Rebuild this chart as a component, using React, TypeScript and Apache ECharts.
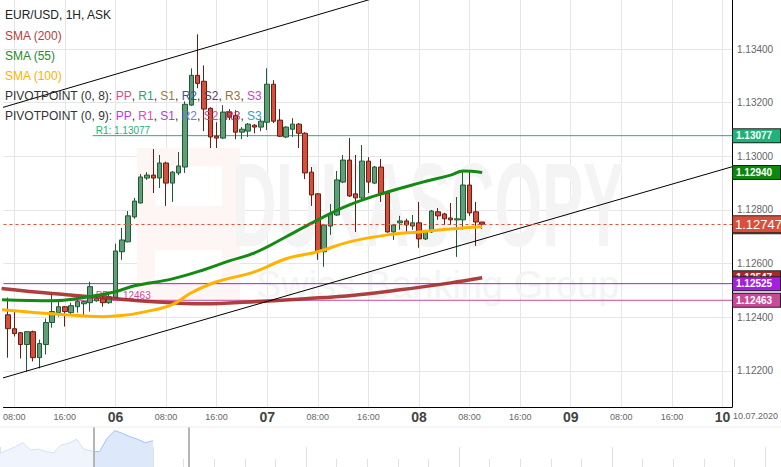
import { useEffect, useRef } from "react";
import * as echarts from "echarts";

const FONT = "Arial, 'Liberation Sans', Helvetica, sans-serif";

// hours counted from 05.07 00:00
const candleHours = [7, 8, 9, 10, 11, 12, 13, 14, 15, 16, 17, 18, 19, 20, 21, 22, 23, 24, 25, 26, 27, 28, 29, 30, 31, 32, 33, 34, 35, 36, 37, 38, 39, 40, 41, 42, 43, 44, 45, 46, 47, 48, 49, 50, 51, 52, 53, 54, 55, 56, 57, 58, 59, 60, 61, 62, 63, 64, 65, 66, 67, 68, 69, 70, 71, 72, 73, 74, 75, 76, 77, 78, 79, 80, 81, 82];
const openPrices = [1.12409, 1.12357, 1.12342, 1.12298, 1.12346, 1.12249, 1.12298, 1.1238, 1.12417, 1.12439, 1.12417, 1.12439, 1.1245, 1.12454, 1.12461, 1.12469, 1.12454, 1.12473, 1.12644, 1.12681, 1.12774, 1.12826, 1.12919, 1.1293, 1.12919, 1.12975, 1.129, 1.12938, 1.1296, 1.13191, 1.13302, 1.1328, 1.13179, 1.13075, 1.13068, 1.13165, 1.13153, 1.1309, 1.13094, 1.13116, 1.13109, 1.13127, 1.13269, 1.13135, 1.13072, 1.13101, 1.1312, 1.13086, 1.12941, 1.1286, 1.12644, 1.1274, 1.12781, 1.12904, 1.12986, 1.1286, 1.12845, 1.12982, 1.129, 1.1296, 1.12863, 1.12718, 1.12752, 1.12759, 1.1274, 1.12752, 1.12692, 1.12718, 1.12793, 1.12785, 1.1277, 1.12763, 1.12763, 1.12893, 1.12793, 1.12755];
const closePrices = [1.12357, 1.12339, 1.12298, 1.12346, 1.12249, 1.12302, 1.1238, 1.12421, 1.12439, 1.12421, 1.12443, 1.12458, 1.12458, 1.12514, 1.12469, 1.12454, 1.12476, 1.12647, 1.12688, 1.12778, 1.12833, 1.12923, 1.1293, 1.12919, 1.12975, 1.129, 1.12941, 1.12964, 1.13194, 1.13302, 1.13272, 1.13176, 1.13072, 1.13068, 1.13165, 1.13146, 1.1309, 1.13101, 1.1312, 1.13109, 1.13131, 1.13269, 1.13131, 1.13075, 1.13109, 1.1312, 1.13086, 1.12938, 1.12856, 1.12644, 1.12744, 1.12785, 1.12912, 1.12986, 1.12852, 1.12845, 1.12982, 1.12904, 1.1296, 1.1286, 1.12718, 1.12744, 1.12759, 1.12744, 1.12752, 1.12692, 1.12722, 1.12796, 1.12778, 1.12767, 1.12763, 1.12767, 1.12893, 1.12789, 1.12755, 1.12747];
const lowPrices = [1.12249, 1.12328, 1.12246, 1.12197, 1.12235, 1.12209, 1.12261, 1.12361, 1.12402, 1.12365, 1.12409, 1.12417, 1.12402, 1.12421, 1.12458, 1.12439, 1.1245, 1.1247, 1.12614, 1.12679, 1.12767, 1.12824, 1.12912, 1.12863, 1.12882, 1.12815, 1.1283, 1.1293, 1.12938, 1.13188, 1.13254, 1.13094, 1.13031, 1.13031, 1.13064, 1.13135, 1.13064, 1.13064, 1.13072, 1.13086, 1.13094, 1.13098, 1.13124, 1.13072, 1.13068, 1.13072, 1.13031, 1.12915, 1.12815, 1.12614, 1.12588, 1.12707, 1.12778, 1.129, 1.12848, 1.12718, 1.12841, 1.12863, 1.12897, 1.1283, 1.12715, 1.12688, 1.12726, 1.12718, 1.12726, 1.12659, 1.12688, 1.12714, 1.12763, 1.12744, 1.12744, 1.12625, 1.12726, 1.12778, 1.12666, 1.12729];
const highPrices = [1.12473, 1.12421, 1.12345, 1.12348, 1.1235, 1.12316, 1.12395, 1.12488, 1.12465, 1.12442, 1.12454, 1.12473, 1.12461, 1.12532, 1.12476, 1.1248, 1.12495, 1.12674, 1.12733, 1.12796, 1.12845, 1.12934, 1.12941, 1.13027, 1.13005, 1.1298, 1.12945, 1.13016, 1.13205, 1.13328, 1.13455, 1.13339, 1.13183, 1.13127, 1.13191, 1.13176, 1.13172, 1.13109, 1.13124, 1.1312, 1.13139, 1.13328, 1.13284, 1.13176, 1.13112, 1.13142, 1.13124, 1.1309, 1.1296, 1.12863, 1.12748, 1.12822, 1.12945, 1.13005, 1.13068, 1.13005, 1.13042, 1.12997, 1.12964, 1.1299, 1.12866, 1.12748, 1.12778, 1.12767, 1.12781, 1.1283, 1.12726, 1.128, 1.12807, 1.12789, 1.12826, 1.12848, 1.12945, 1.12941, 1.1283, 1.12755];

const sma200Hours = [6, 14, 22, 30, 38, 46, 54, 61, 69, 77, 82];
const sma200Values = [1.12507, 1.12488, 1.12473, 1.12458, 1.1245, 1.12458, 1.12469, 1.1248, 1.12502, 1.12528, 1.12547];
const sma55Hours = [6, 14, 19, 24, 27, 33, 38, 42, 46, 51, 56, 61, 67, 72, 77, 79, 82];
const sma55Values = [1.12465, 1.12461, 1.12473, 1.12495, 1.12517, 1.12543, 1.12577, 1.1261, 1.1264, 1.127, 1.12763, 1.12819, 1.12867, 1.129, 1.1293, 1.12945, 1.1294];
const sma100Hours = [6, 16, 22, 25, 28, 33, 36, 40, 46, 51, 56, 61, 67, 72, 77, 82];
const sma100Values = [1.12428, 1.12409, 1.12402, 1.12406, 1.12417, 1.12447, 1.12491, 1.12532, 1.12569, 1.12618, 1.12644, 1.12681, 1.12707, 1.12718, 1.12729, 1.12737];

const upperTrendHours = [6, 70];
const upperTrendValues = [1.13181, 1.13625];
const lowerTrendHours = [6, 121.5];
const lowerTrendValues = [1.12172, 1.12961];

const xTickHours = [8, 16, 24, 32, 40, 48, 56, 64, 72, 80, 88, 96, 104, 112, 120];
const yTickValues = [1.122, 1.124, 1.126, 1.128, 1.13, 1.132, 1.134];

const lastPrice = 1.12747;
const pivotR1 = 1.13077;
const pivotPP8 = 1.12463;
const pivotPP9 = 1.12525;
const pivotStartHour = 20.4;
const sma55Last = 1.1294;
const sma100Last = 1.12737;
const sma200Last = 1.12547;

// navigator (overview) — position in days, height units
const navLightT = [0, 0.05, 0.1, 0.15, 0.2, 0.25, 0.3, 0.35, 0.4, 0.45, 0.5, 0.55, 0.6, 0.614];
const navLightV = [13.7, 17, 20.3, 24.3, 17, 18, 15.3, 14.3, 22, 23.7, 27.7, 17.7, 16, 15.5];
const navSelT = [0.614, 0.65, 0.7, 0.75, 0.8, 0.85, 0.9, 0.95, 1.0];
const navSelV = [15.5, 15.3, 28.7, 36.3, 33.7, 30.3, 27.7, 24.3, 26.3];
const navHandles = [0.614, 1.235];

const X_MIN = 6.3;
const X_MAX = 121.5;

const R1_COLOR = "#1db37a";
const PP8_COLOR = "#c94a9a";
const PP9_COLOR = "#a81ee0";

const pad2 = (n: number) => (n < 10 ? "0" + n : "" + n);

function tag(v: number, bg: string, extra: any = {}) {
  return {
    yAxis: v,
    lineStyle: extra.line || { width: 0, color: "rgba(0,0,0,0)" },
    label: {
      show: true,
      position: "end",
      distance: 1,
      formatter: v.toFixed(5),
      backgroundColor: bg,
      borderColor: "#222",
      borderWidth: 1,
      color: "#fff",
      fontWeight: "bold",
      fontSize: 10,
      fontFamily: FONT,
      padding: [2, 3, 1, 3],
      width: 41,
      lineHeight: 10,
      ...(extra.label || {}),
    },
  };
}

function pivotSeries(v: number, startHour: number, color: string, labelText: string | null) {
  const s: any = {
    type: "line", xAxisIndex: 0, yAxisIndex: 0, z: 3, color,
    data: [[startHour, v], [X_MAX, v]],
    showSymbol: false, lineStyle: { color, width: 1 },
  };
  if (labelText) {
    s.markLine = {
      silent: true, symbol: ["none", "none"], precision: 5, z: 4,
      lineStyle: { color: "rgba(0,0,0,0)", width: 0 },
      data: [
        [
          {
            coord: [pivotStartHour, v],
            lineStyle: { color: "rgba(0,0,0,0)", width: 0 },
            label: {
              show: true, position: "insideStartTop", distance: [3, 0], formatter: labelText,
              color, fontSize: 10, fontFamily: FONT,
            },
          },
          { coord: [X_MAX, v] },
        ],
      ],
    };
  }
  return s;
}

function buildOption() {
  const candles = candleHours.map((h, i) => [h, openPrices[i], closePrices[i], lowPrices[i], highPrices[i]]);
  const pairs = (xs: number[], ys: number[]) => xs.map((x, i) => [x, ys[i]]);

  const legendRow = (label: string, parts: [string, string][]) => {
    let text = `{a|${label}}`;
    const rich: any = { a: { fill: "#333", fontSize: 12, fontFamily: FONT } };
    parts.forEach(([t, c], i) => {
      rich["p" + i] = { fill: c, fontSize: 12, fontFamily: FONT };
      text += `{p${i}|${t}}` + (i < parts.length - 1 ? `{a|, }` : "");
    });
    return { text, rich };
  };
  const row8 = legendRow("PIVOTPOINT (0, 8): ", [
    ["PP", "#d2508c"], ["R1", "#1aa86f"], ["S1", "#a07a3c"], ["R2", "#3f4fa8"], ["S2", "#6a3a6a"], ["R3", "#a0703a"], ["S3", "#d040c8"],
  ]);
  const row9 = legendRow("PIVOTPOINT (0, 9): ", [
    ["PP", "#b040e8"], ["R1", "#f040c8"], ["S1", "#b040d0"], ["R2", "#7878d8"], ["S2", "#e0507a"], ["R3", "#b0306a"], ["S3", "#30a0c8"],
  ]);

  const legendText = (y: number, text: string, fill: string) => ({
    type: "text", x: 5, y, z: 100,
    style: { text, fill, fontSize: 12, fontFamily: FONT, verticalAlign: "middle" },
  });

  return {
    animation: false,
    backgroundColor: "#fff",
    grid: [
      { left: 0, right: 49, top: 0, bottom: 60 },
      { left: 0, right: 0, top: 427, height: 40 },
    ],
    xAxis: [
      {
        type: "value", gridIndex: 0, min: X_MIN, max: X_MAX,
        axisLine: { show: true, lineStyle: { color: "#000", width: 1 } },
        axisTick: { show: false, customValues: xTickHours },
        splitLine: { show: true, lineStyle: { color: "#e6e6e6", width: 1 } },
        axisLabel: {
          customValues: xTickHours,
          margin: 1,
          fontFamily: FONT,
          formatter: (v: number) => {
            const h = Math.round(v);
            if (h % 24 === 0) return `{d|${pad2(5 + h / 24)}}`;
            return `{t|${pad2(h % 24)}:00}`;
          },
          rich: {
            d: { fontSize: 14, fontWeight: "bold", color: "#444", lineHeight: 18, fontFamily: FONT },
            t: { fontSize: 9, color: "#666", lineHeight: 18, fontFamily: FONT },
          },
        },
      },
      {
        type: "value", gridIndex: 1, min: 0, max: 5.1046, interval: 1,
        axisLine: { show: false },
        axisLabel: { show: false },
        splitLine: { show: false },
        axisTick: { show: true, inside: true, length: 20, lineStyle: { color: "#e2e2e2" } },
        minorTick: { show: true, splitNumber: 5, length: 8, lineStyle: { color: "#e2e2e2" } },
      },
    ],
    yAxis: [
      {
        type: "value", gridIndex: 0, position: "right", min: 1.12065, max: 1.13583, splitNumber: 7,
        axisLine: { show: true, lineStyle: { color: "#000", width: 1 } },
        axisTick: { show: false, customValues: yTickValues },
        splitLine: { show: true, lineStyle: { color: "#e6e6e6", width: 1 } },
        axisLabel: {
          customValues: yTickValues, margin: 5, color: "#666", fontSize: 10, fontFamily: FONT,
          formatter: (v: number) => v.toFixed(5),
        },
      },
      { type: "value", gridIndex: 1, min: 0, max: 40, show: false },
    ],
    graphic: [
      { type: "rect", z: 1, silent: true, shape: { x: 137, y: 148, width: 103, height: 152 }, style: { fill: "#fef5f5" } },
      { type: "rect", z: 1, silent: true, shape: { x: 155, y: 166, width: 67, height: 40 }, style: { fill: "#ffffff" } },
      { type: "rect", z: 1, silent: true, shape: { x: 155, y: 250, width: 67, height: 32 }, style: { fill: "#ffffff" } },
      {
        type: "text", z: 1, silent: true, x: 232, y: 146, scaleX: 0.52,
        style: { text: "DUKASCOPY", fill: "#f4f4f4", fontSize: 118, fontWeight: "bold", fontFamily: FONT },
      },
      {
        type: "text", z: 1, silent: true, x: 256, y: 266,
        style: { text: "Swiss Banking Group", fill: "#f4f4f4", fontSize: 38, fontFamily: FONT },
      },
      legendText(15, "EUR/USD, 1H, ASK", "#222"),
      legendText(36, "SMA (200)", "#b83c3c"),
      legendText(56, "SMA (55)", "#1e8c1e"),
      legendText(76, "SMA (100)", "#ffb000"),
      { type: "text", x: 5, y: 96, z: 100, style: { ...row8, fontSize: 12, fontFamily: FONT, verticalAlign: "middle" } },
      { type: "text", x: 5, y: 116, z: 100, style: { ...row9, fontSize: 12, fontFamily: FONT, verticalAlign: "middle" } },
      {
        type: "text", x: 733, y: 416, z: 100,
        style: { text: "10.07.2020", fill: "#666", fontSize: 9, fontFamily: FONT, verticalAlign: "middle" },
      },
      { type: "line", z: 100, shape: { x1: 0, y1: 427, x2: 781, y2: 427 }, style: { stroke: "#ececec", lineWidth: 1 } },
    ],
    series: [
      pivotSeries(pivotPP9, X_MIN, PP9_COLOR, null),
      pivotSeries(pivotPP8, X_MIN, PP8_COLOR, "PP: " + pivotPP8.toFixed(5)),
      pivotSeries(pivotR1, pivotStartHour, R1_COLOR, "R1: " + pivotR1.toFixed(5)),
      {
        type: "candlestick", xAxisIndex: 0, yAxisIndex: 0, barWidth: 5, z: 5,
        data: candles,
        itemStyle: {
          color: "#5f9e78", color0: "#d4503a",
          borderColor: "#1f5a34", borderColor0: "#6a1c12", borderWidth: 1,
        },
      },
      {
        type: "line", xAxisIndex: 0, yAxisIndex: 0, z: 6, data: pairs(sma200Hours, sma200Values),
        smooth: 0.4, showSymbol: false, lineStyle: { color: "#a52a2a", width: 3.5, opacity: 0.9 },
      },
      {
        type: "line", xAxisIndex: 0, yAxisIndex: 0, z: 6, data: pairs(sma100Hours, sma100Values),
        smooth: 0.4, showSymbol: false, lineStyle: { color: "#ffb300", width: 3 },
      },
      {
        type: "line", xAxisIndex: 0, yAxisIndex: 0, z: 6, data: pairs(sma55Hours, sma55Values),
        smooth: 0.4, showSymbol: false, lineStyle: { color: "#138a13", width: 3 },
      },
      {
        type: "line", xAxisIndex: 0, yAxisIndex: 0, z: 7, data: pairs(upperTrendHours, upperTrendValues),
        showSymbol: false, lineStyle: { color: "#000", width: 1 },
      },
      {
        type: "line", xAxisIndex: 0, yAxisIndex: 0, z: 7, data: pairs(lowerTrendHours, lowerTrendValues),
        showSymbol: false, lineStyle: { color: "#000", width: 1 },
        markLine: {
          silent: true, symbol: ["none", "none"], z: 10, animation: false, precision: 5,
          data: [
            tag(sma200Last, "#a82828"),
            tag(pivotPP9, PP9_COLOR),
            tag(pivotPP8, PP8_COLOR),
            tag(sma100Last, "#ffa500"),
            tag(lastPrice, "#d9503a", {
              line: { color: "#e8503a", width: 1, type: [3, 3] },
              label: { fontSize: 13, fontWeight: "normal", padding: [2, 2, 1, 2], lineHeight: 13, width: 45 },
            }),
            tag(sma55Last, "#0e870e"),
            tag(pivotR1, R1_COLOR),
          ],
        },
      },
      {
        type: "line", xAxisIndex: 1, yAxisIndex: 1, data: pairs(navLightT, navLightV),
        showSymbol: false, lineStyle: { color: "#d0e0fa", width: 1 },
        areaStyle: { color: "#f0f5fd", opacity: 1 },
      },
      {
        type: "line", xAxisIndex: 1, yAxisIndex: 1, data: pairs(navSelT, navSelV),
        showSymbol: false, lineStyle: { color: "#a3c3f6", width: 1 },
        areaStyle: { color: "#dde8fb", opacity: 1 },
        markLine: {
          silent: true, symbol: ["none", "none"], label: { show: false }, precision: 5,
          lineStyle: { color: "#b5b5b5", width: 2, type: "solid" },
          data: navHandles.map((t) => ({ xAxis: t })),
        },
      },
    ],
  };
}

export default function App() {
  const ref = useRef<HTMLDivElement>(null);
  useEffect(() => {
    if (!ref.current) return;
    const chart = echarts.init(ref.current, undefined, { renderer: "svg" });
    chart.setOption(buildOption() as any);
    return () => chart.dispose();
  }, []);
  return <div ref={ref} style={{ position: "absolute", left: 0, top: 0, width: 781, height: 467 }} />;
}
